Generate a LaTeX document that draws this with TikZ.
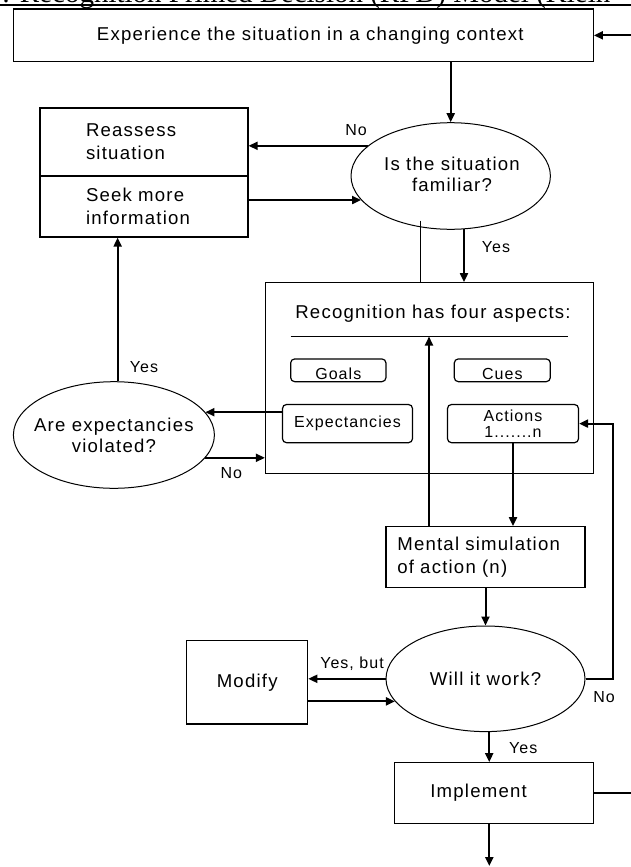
\documentclass[tikz,border=0pt]{standalone}
\usepackage{fontspec}
\setmainfont{Liberation Sans}[LetterSpace=6.5]
\newfontfamily\titlefont{Liberation Serif}
\usetikzlibrary{shapes.geometric,arrows.meta}
\newcommand\bigtxt{\fontsize{18.6}{23}\selectfont}
\newcommand\lbltxt{\fontsize{16}{17}\selectfont}

\begin{document}
\begin{tikzpicture}[x=1pt,y=-1pt,
    box/.style={draw,line width=1.2pt,rectangle,inner sep=0pt,font=\bigtxt},
    qell/.style={draw,line width=1pt,ellipse,inner sep=0pt},
    qtxt/.style={inner sep=0pt,align=center,font=\fontsize{18.6}{21}\selectfont},
    aspbox/.style={draw,line width=1.2pt,rounded corners=4pt,inner sep=0pt,align=center,font=\lbltxt},
    arr/.style={-{Triangle[length=9pt,width=8pt]},line width=2pt},
    lbl/.style={inner sep=0pt,font=\lbltxt}]
    \useasboundingbox (0,0) rectangle (631,867);

    \node[anchor=base west,inner sep=0pt,font=\titlefont\fontsize{29}{30}\selectfont] (titl) at (2,2.5) {: Recognition Primed Decision (RPD) Model (Klein};
    \draw[line width=2pt] (0,5) -- (631,5);

    \begin{scope}
        \node[box,minimum width=580pt,minimum height=52.7pt] (exp) at (303.3,35.35) {\hspace*{14pt}Experience the situation in a changing context};
        \node[box,minimum width=208pt,minimum height=68pt,text width=116pt,inner xsep=46pt,align=left] (reas) at (144,142) {Reassess\\situation};
        \node[box,minimum width=208pt,minimum height=61pt,text width=116pt,inner xsep=46pt,align=left] (seek) at (144,206.5) {Seek more\\information};
        \node[qell,minimum width=199.4pt,minimum height=106.6pt] (fam) at (450.7,176) {};
        \node[qtxt] (famt) at (452,174) {Is the situation\\familiar?};
        \node[box,minimum width=327.8pt,minimum height=190.6pt] (rec) at (429.4,378) {};
        \node[font=\bigtxt,inner sep=0pt] (head) at (433,314) {Recognition has four aspects:};
        \node[aspbox,minimum width=95.3pt,text height=20.2pt,text depth=2.5pt] (goals) at (338.3,370.3) {Goals};
        \node[aspbox,minimum width=96pt,text height=20.2pt,text depth=2.5pt] (cues) at (502.3,370.3) {Cues};
        \node[aspbox,minimum width=130pt,minimum height=38.2pt] (expct) at (347.5,423.6) {Expectancies};
        \node[aspbox,minimum width=131pt,minimum height=38.2pt,font=\fontsize{16}{16.5}\selectfont] (acts) at (513,423.6) {Actions\\1.......n};
        \node[qell,minimum width=201pt,minimum height=106.6pt] (expq) at (113.9,435) {};
        \node[qtxt] (expqt) at (expq) {Are expectancies\\violated?};
        \node[box,minimum width=199pt,minimum height=60.6pt,text width=176.4pt,inner xsep=11.3pt,align=left] (ment) at (485.5,557) {Mental simulation\\of action (n)};
        \node[qell,minimum width=199pt,minimum height=105.6pt] (will) at (485.5,678.8) {};
        \node[qtxt] (willt) at (will) {Will it work?};
        \node[box,minimum width=121pt,minimum height=83.3pt] (mod) at (247.2,682.35) {Modify};
        \node[box,minimum width=199pt,minimum height=60.6pt,text width=127pt,inner xsep=36pt,align=left] (impl) at (493.8,793) {Implement};
    \end{scope}

    \begin{scope}
        \coordinate (rulel) at (290.7,336.5);
        \coordinate (ruler) at (567.7,336.5);
        \coordinate (up) at (429,336.5);
        \coordinate (famline) at (420.3,220.7);
        \coordinate (out) at (489.3,866);
        \draw[line width=1pt] (rulel) -- (ruler);
        \draw[line width=1pt] (famline) -- (famline |- rec.north);
    \end{scope}

    \begin{scope}
        \draw[arr] (impl.east) -- ++(60,0) |- (exp.east);
        \draw[arr] (fam.north |- exp.south) -- (fam.north);
        \draw[arr] (fam.160) -- (fam.160 -| reas.east);
        \draw[arr] (fam.195 -| seek.east) -- (fam.195);
        \draw[arr] (fam.-76.6) -- (fam.-76.6 |- rec.north);
        \draw[arr] (expq.14 -| expct.west) -- (expq.14);
        \draw[arr] (expq.-14.5) -- (expq.-14.5 -| rec.west);
        \draw[arr] (expq.86) -- (expq.86 |- seek.south);
        \draw[arr] (up |- ment.north) -- (up);
        \draw[arr] (acts.south) -- (acts.south |- ment.north);
        \draw[arr] (ment.south) -- (will.north);
        \draw[arr] (will.east) -- ++(27,0) |- (acts.east);
        \draw[arr] (will.west) -- (will.west -| mod.east);
        \draw[arr] (will.194 -| mod.east) -- (will.194);
        \draw[arr] (will.-86) -- (will.-86 |- impl.north);
        \draw[arr] (out |- impl.south) -- (out);
    \end{scope}

    \begin{scope}[every node/.style={lbl}]
        \node (noA) at (356,130) {No};
        \node (yesA) at (496,246.7) {Yes};
        \node (yesB) at (144,366.7) {Yes};
        \node (noB) at (231.4,473.3) {No};
        \node (yesbut) at (352,663.3) {Yes, but};
        \node (noC) at (604,696.7) {No};
        \node (yesC) at (523.3,747.7) {Yes};
    \end{scope}
\end{tikzpicture}
\end{document}
